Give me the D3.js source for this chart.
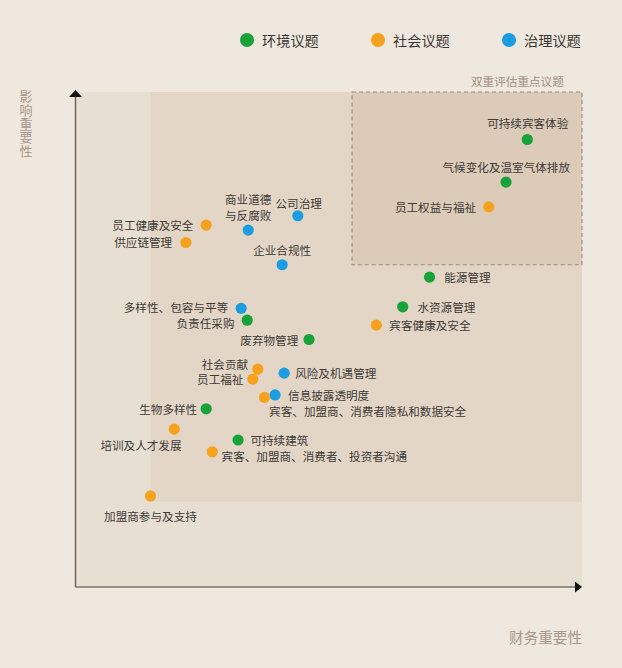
<!DOCTYPE html>
<html>
<head>
<meta charset="utf-8">
<script src="https://cdn.jsdelivr.net/npm/d3@7/dist/d3.min.js"></script>
<style>
  html, body { margin: 0; padding: 0; background: #efe8de; }
  svg { display: block; }
  text { font-family: "Noto Sans CJK SC", "Noto Sans", sans-serif; }
</style>
</head>
<body>
<svg id="chart" width="622" height="668"></svg>
<script>
// ---- Data ----
const categories = ["环境议题", "社会议题", "治理议题"];
const categoryColors = ["#17a23a", "#f7a21c", "#1c9de2"];

const topics = [
  "可持续宾客体验", "气候变化及温室气体排放", "员工权益与福祉", "能源管理", "水资源管理",
  "宾客健康及安全", "商业道德\n与反腐败", "公司治理", "员工健康及安全", "供应链管理",
  "企业合规性", "多样性、包容与平等", "负责任采购", "废弃物管理", "社会贡献",
  "员工福祉", "风险及机遇管理", "信息披露透明度", "宾客、加盟商、消费者隐私和数据安全", "生物多样性",
  "培训及人才发展", "可持续建筑", "宾客、加盟商、消费者、投资者沟通", "加盟商参与及支持"
];
const topicCategory = [
  0, 0, 1, 0, 0,
  1, 2, 2, 1, 1,
  2, 2, 0, 0, 1,
  1, 2, 2, 1, 0,
  1, 0, 1, 1
];
// financial materiality (x)
const financialImportance = [
  89.2, 85.0, 81.6, 69.9, 64.6,
  59.4, 34.1, 43.9, 25.8, 21.8,
  40.8, 32.7, 33.9, 46.1, 36.0,
  35.0, 41.2, 39.4, 37.3, 25.8,
  19.5, 32.1, 27.0, 14.8
];
// impact materiality (y)
const impactImportance = [
  90.4, 81.8, 76.8, 62.6, 56.6,
  52.9, 72.1, 75.0, 73.1, 69.6,
  65.1, 56.3, 53.9, 50.0, 44.0,
  42.0, 43.2, 38.8, 38.3, 36.0,
  31.9, 29.7, 27.3, 18.4
];

// zone thresholds (in score units)
const focusZone = { x0: 54.6, y0: 65.1 };   // 双重评估重点议题
const innerZone = { x0: 14.8, y0: 17.2 };

const texts = {
  yTitle: "影响重要性",
  xTitle: "财务重要性",
  focus: "双重评估重点议题"
};

// ---- Layout (label placement relative to each dot: anchor, dx, dy) ----
const labelPlacement = [
  ["end", 41, -16.5], ["end", 64, -15.3], ["end", -12.7, 0], ["start", 14.7, 0], ["start", 14.7, 0],
  ["start", 13, 0], ["middle", 0, -31], ["middle", 0.8, -13], ["end", -12.7, 0], ["end", -13.7, 0],
  ["middle", 0, -14.7], ["end", -13, -1.6], ["end", -12.7, 3.3], ["end", -10.7, 0], ["end", -9.7, -5],
  ["end", -9.3, 0], ["start", 11, 0], ["start", 13, 0.3], ["start", 4.7, 14], ["end", -9, 0],
  ["end", 7.3, 16], ["start", 12.3, 0], ["start", 9.3, 4], ["middle", 0, 20]
];

const svg = d3.select("#chart");
const x = d3.scaleLinear().domain([0, 100]).range([75.5, 582]);
const y = d3.scaleLinear().domain([0, 100]).range([587, 92]);

// ---- Background zones ----
svg.append("rect")
  .attr("x", x(0)).attr("y", y(100))
  .attr("width", x(100) - x(0)).attr("height", y(0) - y(100))
  .attr("fill", "#e8dfd3");
svg.append("rect")
  .attr("x", x(innerZone.x0)).attr("y", y(100))
  .attr("width", x(100) - x(innerZone.x0)).attr("height", y(innerZone.y0) - y(100))
  .attr("fill", "#e3d6c6");
svg.append("rect")
  .attr("x", x(focusZone.x0)).attr("y", y(100))
  .attr("width", x(100) - x(focusZone.x0)).attr("height", y(focusZone.y0) - y(100))
  .attr("fill", "#dccbb8")
  .attr("stroke", "#9c8b7b").attr("stroke-width", 1.1)
  .attr("stroke-dasharray", "4,3");

svg.append("text")
  .attr("x", x(96.4)).attr("y", y(100) - 11)
  .attr("text-anchor", "end").attr("dominant-baseline", "central")
  .attr("font-size", 11.6).attr("fill", "#a3907e")
  .text(texts.focus);

// ---- Axes ----
const axisColor = "#6a5e55";
svg.append("line")
  .attr("x1", x(0)).attr("x2", x(0)).attr("y1", y(0)).attr("y2", y(100) + 2)
  .attr("stroke", axisColor).attr("stroke-width", 1.4);
svg.append("line")
  .attr("x1", x(0)).attr("x2", x(100) - 4).attr("y1", y(0)).attr("y2", y(0))
  .attr("stroke", "#7d736a").attr("stroke-width", 1.6);
svg.append("path")
  .attr("d", `M${x(0)},${y(100) - 2} L${x(0) - 6.5},${y(100) + 5} L${x(0) + 6.5},${y(100) + 5} Z`)
  .attr("fill", "#111");
svg.append("path")
  .attr("d", `M${x(100)},${y(0)} L${x(100) - 7},${y(0) - 5.5} L${x(100) - 7},${y(0) + 5.5} Z`)
  .attr("fill", "#111");

// axis titles
svg.append("text")
  .attr("x", 26).attr("y", 90)
  .style("writing-mode", "vertical-rl")
  .attr("text-anchor", "start")
  .attr("font-size", 13).attr("letter-spacing", 0.6)
  .attr("fill", "#a8988a")
  .text(texts.yTitle);
svg.append("text")
  .attr("x", x(100)).attr("y", 636)
  .attr("text-anchor", "end").attr("dominant-baseline", "central")
  .attr("font-size", 14.6).attr("fill", "#a8988a")
  .text(texts.xTitle);

// ---- Legend ----
const legendX = [247, 378, 509];
const legend = svg.append("g");
categories.forEach((c, i) => {
  legend.append("circle").attr("cx", legendX[i]).attr("cy", 40).attr("r", 7)
    .attr("fill", categoryColors[i]);
  legend.append("text").attr("x", legendX[i] + 15).attr("y", 40)
    .attr("dominant-baseline", "central").attr("font-size", 14.2)
    .attr("fill", "#3b3733").text(c);
});

// ---- Points ----
const pts = topics.map((t, i) => ({
  name: t, cat: topicCategory[i],
  fx: financialImportance[i], iy: impactImportance[i],
  lp: labelPlacement[i]
}));

const g = svg.append("g");
g.selectAll("circle.pt").data(pts).join("circle")
  .attr("class", "pt")
  .attr("cx", d => x(d.fx)).attr("cy", d => y(d.iy)).attr("r", 5.6)
  .attr("fill", d => categoryColors[d.cat]);

g.selectAll("text.lbl").data(pts).join("text")
  .attr("class", "lbl")
  .attr("text-anchor", d => d.lp[0])
  .attr("font-size", 11.6).attr("fill", "#3e3a36")
  .each(function (d) {
    const lines = d.name.split("\n");
    const t = d3.select(this);
    lines.forEach((ln, k) => {
      t.append("tspan")
        .attr("x", x(d.fx) + d.lp[1])
        .attr("y", y(d.iy) + d.lp[2] + k * 16)
        .attr("dominant-baseline", "central")
        .text(ln);
    });
  });
</script>
</body>
</html>
